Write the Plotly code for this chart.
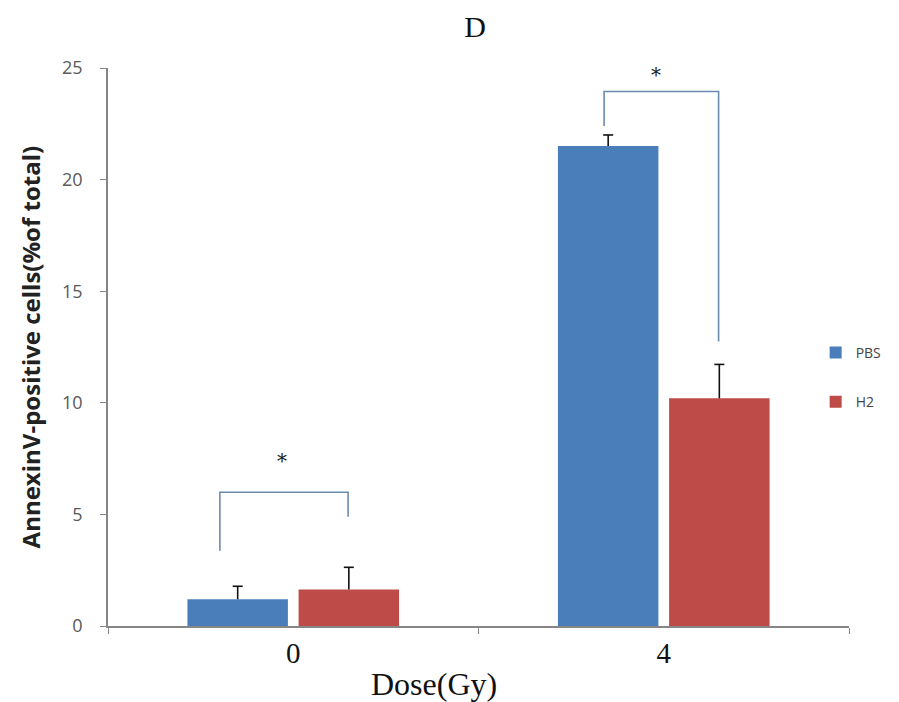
import plotly.graph_objects as go

categories = ["0", "4"]
series_names = ["PBS", "H2"]
pbs_values = [1.2, 21.5]
pbs_err = [0.58, 0.5]
h2_values = [1.63, 10.2]
h2_err = [1.0, 1.52]
y_ticks = [0, 5, 10, 15, 20, 25]

# significance brackets: (left x, right x, top y, left leg bottom, right leg bottom)
brackets = [(-0.198, 0.148, 5.99, 3.37, 4.9), (0.839, 1.148, 23.95, 22.4, 12.75)]
stars = [(-0.03, 7.41), (0.98, 24.69)]

colors = ["#4A7EBB", "#BE4B48"]
BARGAP = 0.4
BARGROUPGAP = 0.096
slot = (1 - BARGAP) / 2
cap = 0.0135

fig = go.Figure()
series = [("PBS", pbs_values, pbs_err, colors[0]), ("H2", h2_values, h2_err, colors[1])]
for j, (name, vals, errs, col) in enumerate(series):
    fig.add_trace(go.Bar(
        x=categories, y=vals, name=name, marker=dict(color=col, line=dict(width=0)),
        legendgroup=name,
    ))
    # plus-only error bars (Excel style: stem + top cap)
    for i, (v, e) in enumerate(zip(vals, errs)):
        xc = i + (j - 0.5) * slot
        fig.add_shape(type="line", xref="x", yref="y", x0=xc, x1=xc, y0=v, y1=v + e,
                      line=dict(color="#111111", width=1.6))
        fig.add_shape(type="line", xref="x", yref="y", x0=xc - cap, x1=xc + cap, y0=v + e, y1=v + e,
                      line=dict(color="#111111", width=1.6))

for (x0, x1, yt, yl, yr) in brackets:
    fig.add_shape(type="path",
                  path=f"M {x0} {yl} L {x0} {yt} L {x1} {yt} L {x1} {yr}",
                  xref="x", yref="y", line=dict(color="#6A8BB0", width=1.6))

for (sx, sy) in stars:
    fig.add_annotation(x=sx, y=sy, xref="x", yref="y", text="*", showarrow=False,
                       font=dict(family="DejaVu Serif", size=20, color="#222222"))

fig.add_annotation(x=(436 - 108) / 745, y=-0.104, xref="paper", yref="paper",
                   text="Dose(Gy)", showarrow=False, yanchor="middle",
                   font=dict(family="Liberation Serif", size=32, color="#111111"))
fig.add_annotation(x=(30 - 108) / 745, y=0.5, xref="paper", yref="paper",
                   text="<b>AnnexinV-positive cells(%of total)</b>", showarrow=False,
                   textangle=-90, xanchor="center", yanchor="middle",
                   font=dict(family="Open Sans", size=24, color="#222222"))

fig.update_layout(
    width=891, height=694,
    margin=dict(l=100, r=46, t=60, b=76),
    paper_bgcolor="white", plot_bgcolor="white",
    title=dict(text="D", x=467 / 891, xanchor="center", y=1 - 18 / 694, yanchor="middle",
               font=dict(family="Liberation Serif", size=30, color="#111111")),
    barmode="group", bargap=BARGAP, bargroupgap=BARGROUPGAP,
    showlegend=True,
    legend=dict(x=0.955, y=0.518, xanchor="left", yanchor="top",
                font=dict(family="Open Sans", size=14, color="#444444"),
                tracegroupgap=28, itemwidth=30, bgcolor="rgba(0,0,0,0)"),
    xaxis=dict(type="category", tickson="boundaries", ticks="outside", ticklen=6,
               tickcolor="#868686", showline=True, linecolor="#868686", linewidth=1.5,
               showgrid=False, zeroline=False,
               tickfont=dict(family="Liberation Serif", size=29, color="#111111")),
    yaxis=dict(range=[0, 25], tickvals=y_ticks, ticks="outside", ticklen=6,
               tickcolor="#868686", showline=True, linecolor="#868686", linewidth=1.5,
               showgrid=False, zeroline=False, ticklabelstandoff=14,
               tickfont=dict(family="Open Sans", size=18, color="#595959")),
)

fig.write_html("out.html")
